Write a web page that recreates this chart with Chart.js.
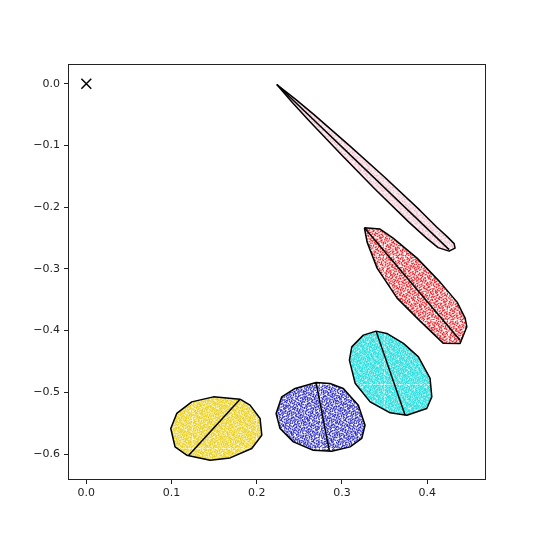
<!DOCTYPE html>
<html>
<head>
<meta charset="utf-8">
<script src="https://cdn.jsdelivr.net/npm/chart.js@4.4.1/dist/chart.umd.min.js"></script>
<style>
  html, body { margin: 0; padding: 0; background: #fff; }
  #wrap { width: 540px; height: 540px; }
</style>
</head>
<body>
<div id="wrap"><canvas id="chart" width="540" height="540"></canvas></div>
<script>
// tick positions
const xTicks = [0.0, 0.1, 0.2, 0.3, 0.4];
const yTicks = [0.0, -0.1, -0.2, -0.3, -0.4, -0.5, -0.6];

// convex hulls of each cloud
const pinkHull = [[0.2235, -0.0013], [0.2453, -0.0250], [0.2668, -0.0497], [0.3088, -0.1003], [0.3505, -0.1518],
  [0.3913, -0.2048], [0.4111, -0.2322], [0.4234, -0.2477], [0.4316, -0.2590], [0.4327, -0.2663],
  [0.4257, -0.2712], [0.4128, -0.2655], [0.3999, -0.2510], [0.3791, -0.2250], [0.3392, -0.1712],
  [0.2999, -0.1157], [0.2611, -0.0595], [0.2420, -0.0308]];
const redHull = [[0.3263, -0.2334], [0.3447, -0.2355], [0.3600, -0.2501], [0.3881, -0.2825], [0.4151, -0.3214],
  [0.4351, -0.3538], [0.4445, -0.3797], [0.4465, -0.3938], [0.4386, -0.4207], [0.4187, -0.4203],
  [0.3881, -0.3797], [0.3647, -0.3473], [0.3412, -0.2987], [0.3295, -0.2566]];
const cyanHull = [[0.3400, -0.4008], [0.3251, -0.4073], [0.3115, -0.4263], [0.3087, -0.4478], [0.3154, -0.4851],
  [0.3330, -0.5154], [0.3565, -0.5332], [0.3761, -0.5370], [0.3995, -0.5261], [0.4054, -0.5073],
  [0.4034, -0.4775], [0.3897, -0.4425], [0.3721, -0.4207], [0.3526, -0.4045]];
const blueHull = [[0.2696, -0.4840], [0.2450, -0.4937], [0.2293, -0.5073], [0.2227, -0.5342], [0.2273, -0.5585],
  [0.2430, -0.5802], [0.2664, -0.5937], [0.2880, -0.5953], [0.3095, -0.5883], [0.3232, -0.5747],
  [0.3271, -0.5532], [0.3192, -0.5207], [0.3016, -0.4937], [0.2860, -0.4856]];
const yellowHull = [[0.1804, -0.5110], [0.1491, -0.5073], [0.1237, -0.5154], [0.1061, -0.5342], [0.0991, -0.5585],
  [0.1041, -0.5883], [0.1178, -0.6018], [0.1452, -0.6099], [0.1687, -0.6062], [0.1941, -0.5909],
  [0.2059, -0.5694], [0.2039, -0.5423], [0.1921, -0.5207]];

// long axis of each cloud
const pinkAxis = [[0.2235, -0.0013], [0.4257, -0.2687]];
const redAxis = [[0.3263, -0.2334], [0.4386, -0.4154]];
const cyanAxis = [[0.3400, -0.4008], [0.3741, -0.5370]];
const blueAxis = [[0.2696, -0.4840], [0.2852, -0.5953]];
const yellowAxis = [[0.1804, -0.5110], [0.1197, -0.6029]];

const origin = [[0, 0]];

// halton sequence, used only to spread the texture dots of a fill
function halton(i, b) {
  let f = 1, r = 0;
  while (i > 0) { f /= b; r += f * (i % b); i = Math.floor(i / b); }
  return r;
}

// dotted texture used as the fill of a hull
function stipple(color, tint, count) {
  const n = 64;
  const c = document.createElement('canvas');
  c.width = c.height = n;
  const g = c.getContext('2d');
  if (tint) { g.fillStyle = tint; g.fillRect(0, 0, n, n); }
  g.fillStyle = color;
  for (let i = 1; i <= count; i++) {
    g.fillRect(halton(i, 2) * n, halton(i, 3) * n, 1.3, 1.3);
  }
  return g.createPattern(c, 'repeat');
}

const pts = arr => arr.map(p => ({ x: p[0], y: p[1] }));
const closed = arr => pts(arr.concat([arr[0]]));

function hull(data, fill) {
  return {
    data: closed(data), showLine: true, fill: 'shape', backgroundColor: fill,
    borderColor: '#000', borderWidth: 1.5, borderJoinStyle: 'round', pointRadius: 0, tension: 0, order: 2
  };
}
function axisLine(data) {
  return { data: pts(data), showLine: true, fill: false, borderColor: '#000', borderWidth: 1.5, pointRadius: 0, order: 1 };
}

const frame = {
  id: 'frame',
  afterDraw(chart) {
    const { ctx, chartArea: a } = chart;
    ctx.save();
    ctx.strokeStyle = '#222';
    ctx.lineWidth = 1;
    ctx.strokeRect(a.left + 0.5, a.top + 0.5, a.right - a.left - 1, a.bottom - a.top - 1);
    ctx.restore();
  }
};

const fmt = v => (v < -1e-9 ? '\u2212' : '') + Math.abs(v).toFixed(1);
const tickFont = { family: 'DejaVu Sans', size: 11 };

new Chart(document.getElementById('chart'), {
  type: 'scatter',
  data: {
    datasets: [
      hull(pinkHull, stipple('rgba(230,140,165,0.45)', 'rgba(248,228,234,0.7)', 900)),
      hull(redHull, stipple('rgba(228,20,28,0.9)', 'rgba(255,238,238,0.6)', 1300)),
      hull(cyanHull, stipple('rgba(30,220,220,0.9)', 'rgba(150,242,242,0.45)', 2100)),
      hull(blueHull, stipple('rgba(30,30,190,0.9)', null, 1600)),
      hull(yellowHull, stipple('rgba(232,205,20,0.85)', 'rgba(250,240,170,0.55)', 1900)),
      axisLine(pinkAxis), axisLine(redAxis), axisLine(cyanAxis), axisLine(blueAxis), axisLine(yellowAxis),
      { data: pts(origin), pointStyle: 'crossRot', pointRadius: 7, borderColor: '#000', borderWidth: 1.5, order: 0 }
    ]
  },
  options: {
    responsive: false, animation: false,
    layout: { padding: { left: 0, top: 64, right: 54, bottom: 0 } },
    plugins: { legend: { display: false }, tooltip: { enabled: false } },
    scales: {
      x: {
        type: 'linear', min: -0.0215, max: 0.469,
        afterBuildTicks: s => { s.ticks = xTicks.map(v => ({ value: v })); },
        afterFit: s => { s.height = 60; },
        grid: { display: true, drawOnChartArea: false, drawTicks: true, tickLength: 4, color: '#222' },
        border: { display: false },
        ticks: { color: '#222', font: tickFont, padding: 3, maxRotation: 0, callback: fmt }
      },
      y: {
        type: 'linear', min: -0.642, max: 0.032,
        afterBuildTicks: s => { s.ticks = yTicks.map(v => ({ value: v })); },
        afterFit: s => { s.width = 68; },
        grid: { display: true, drawOnChartArea: false, drawTicks: true, tickLength: 4, color: '#222' },
        border: { display: false },
        ticks: { color: '#222', font: tickFont, padding: 4, callback: fmt }
      }
    }
  },
  plugins: [frame]
});
</script>
</body>
</html>
